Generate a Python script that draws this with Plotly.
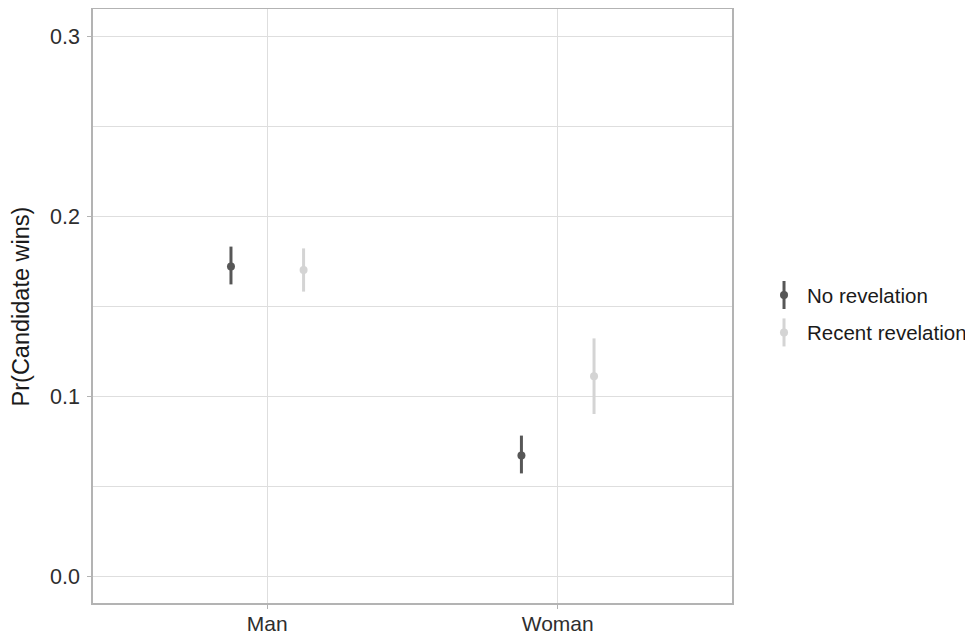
import plotly.graph_objects as go

# ---- data ----
genders = ["Man", "Woman"]
groups = ["No revelation", "Recent revelation"]
estimate_no = [0.172, 0.067]
lower_no = [0.162, 0.057]
upper_no = [0.183, 0.078]
estimate_recent = [0.170, 0.111]
lower_recent = [0.158, 0.090]
upper_recent = [0.182, 0.132]
y_ticks = [0.0, 0.1, 0.2, 0.3]
y_tick_labels = ["0.0", "0.1", "0.2", "0.3"]
y_minor_ticks = [0.05, 0.15, 0.25]

# ---- style ----
COLORS = ["#575757", "#d4d4d4"]
DODGE = 0.125
FONT = "Liberation Sans, Arial, Helvetica, sans-serif"
GRID = "#dedede"
BORDER = "#b3b3b3"
TICK_COLOR = "#2e2e2e"

series = [
    (estimate_no, lower_no, upper_no),
    (estimate_recent, lower_recent, upper_recent),
]

fig = go.Figure()
for k, (est, lo, hi) in enumerate(series):
    offset = -DODGE if k == 0 else DODGE
    xs = [i + offset for i in range(len(genders))]
    fig.add_trace(go.Scatter(
        x=xs, y=est, mode="markers", name=groups[k],
        marker=dict(color=COLORS[k], size=8, line=dict(width=0)),
        error_y=dict(type="data", symmetric=False,
                     array=[h - e for h, e in zip(hi, est)],
                     arrayminus=[e - l for e, l in zip(est, lo)],
                     width=0, thickness=3, color=COLORS[k]),
        showlegend=False,
    ))

# custom legend (pointrange glyphs)
shapes = []
annotations = []
leg_x = 1.0814
row_y = [0.5185, 0.4555]
half = 0.0236
for k, g in enumerate(groups):
    shapes.append(dict(type="line", xref="paper", yref="paper",
                       x0=leg_x, x1=leg_x, y0=row_y[k] - half, y1=row_y[k] + half,
                       line=dict(color=COLORS[k], width=3)))
    shapes.append(dict(type="circle", xref="paper", yref="paper",
                       x0=leg_x - 0.0063, x1=leg_x + 0.0063,
                       y0=row_y[k] - 0.0067, y1=row_y[k] + 0.0067,
                       fillcolor=COLORS[k], line=dict(width=0)))
    annotations.append(dict(xref="paper", yref="paper", x=1.1145, y=row_y[k],
                            xanchor="left", yanchor="middle", showarrow=False,
                            text=g, font=dict(family=FONT, size=20.5, color="#1a1a1a")))

# y-axis title
annotations.append(dict(xref="paper", yref="paper", x=-0.112, y=0.5,
                        xanchor="center", yanchor="middle", showarrow=False,
                        textangle=-90, text="Pr(Candidate wins)",
                        font=dict(family=FONT, size=23.5, color="#1a1a1a")))

# page body adds an 8px offset; compensate so the panel lands where the reference has it
fig.update_layout(
    width=965, height=628,
    margin=dict(l=85, r=241, t=1, b=33, autoexpand=False),
    paper_bgcolor="white", plot_bgcolor="white",
    font=dict(family=FONT, size=21, color=TICK_COLOR),
    shapes=shapes, annotations=annotations,
    showlegend=False,
)
fig.update_xaxes(
    automargin=False,
    range=[-0.6, 1.6], tickmode="array",
    tickvals=list(range(len(genders))), ticktext=genders,
    showgrid=True, gridcolor=GRID, gridwidth=1, zeroline=False,
    showline=True, linecolor=BORDER, linewidth=1.5, mirror=True,
    ticks="outside", ticklen=4, tickcolor=BORDER, tickwidth=1,
    tickfont=dict(family=FONT, size=21, color=TICK_COLOR),
    ticklabelstandoff=-3,
)
fig.update_yaxes(
    automargin=False,
    range=[-0.015, 0.315], tickmode="array",
    tickvals=y_ticks, ticktext=y_tick_labels,
    showgrid=True, gridcolor=GRID, gridwidth=1, zeroline=False,
    minor=dict(tickvals=y_minor_ticks, showgrid=True, gridcolor=GRID, gridwidth=0.6),
    showline=True, linecolor=BORDER, linewidth=1.5, mirror=True,
    ticks="outside", ticklen=4, tickcolor=BORDER, tickwidth=1,
    tickfont=dict(family=FONT, size=21.5, color=TICK_COLOR),
    ticklabelstandoff=3,
)

fig.write_html("out.html")
